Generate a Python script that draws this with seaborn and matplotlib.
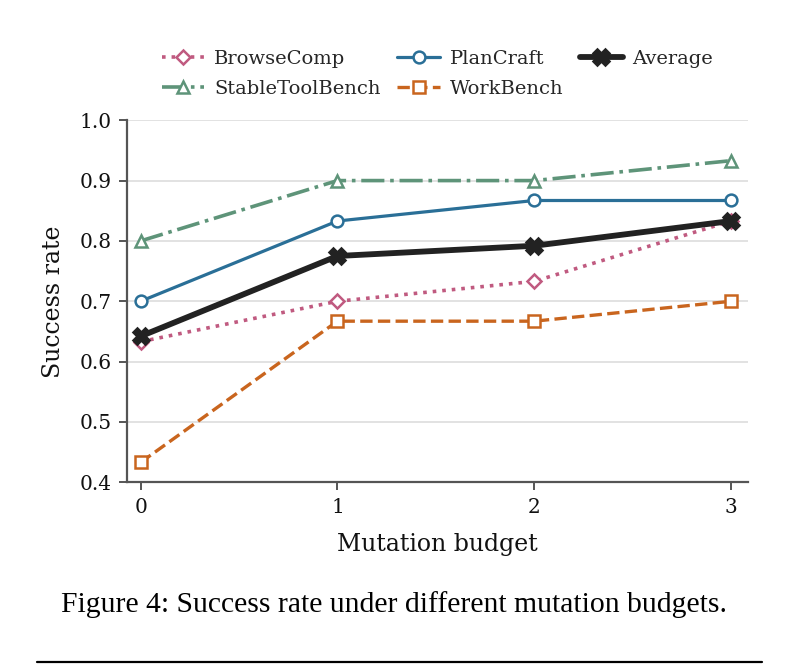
import matplotlib
matplotlib.use("Agg")
import matplotlib.pyplot as plt
from matplotlib.lines import Line2D
import seaborn as sns
import pandas as pd

budgets = [0, 1, 2, 3]
browsecomp = [0.633, 0.700, 0.733, 0.833]
stabletoolbench = [0.800, 0.900, 0.900, 0.933]
plancraft = [0.700, 0.833, 0.867, 0.867]
workbench = [0.433, 0.667, 0.667, 0.700]
average = [0.642, 0.775, 0.792, 0.833]

series_names = ["BrowseComp", "StableToolBench", "PlanCraft", "WorkBench", "Average"]
series_vals = [browsecomp, stabletoolbench, plancraft, workbench, average]

rows = []
for name, vals in zip(series_names, series_vals):
    for b, v in zip(budgets, vals):
        rows.append({"budget": b, "rate": v, "series": name})
df = pd.DataFrame(rows)

sns.set_theme(style="ticks")
plt.rcParams["font.family"] = ["DejaVu Serif"]

styles = {
    "BrowseComp": dict(color="#c05a80", ls=":", marker="D", lw=2.6, ms=7.5, mfc="white"),
    "StableToolBench": dict(color="#5e9479", ls="-.", marker="^", lw=2.6, ms=8.5, mfc="white"),
    "PlanCraft": dict(color="#2a6f97", ls="-", marker="o", lw=2.3, ms=8.5, mfc="white"),
    "WorkBench": dict(color="#c9651e", ls="--", marker="s", lw=2.4, ms=8, mfc="white"),
    "Average": dict(color="#222222", ls="-", marker="X", lw=4.2, ms=11, mfc="#222222"),
}

fig = plt.figure(figsize=(7.88, 6.68), dpi=100)
ax = fig.add_axes([0.161, 0.278, 0.788, 0.542])

for name in series_names:
    s = styles[name]
    sub = df[df["series"] == name]
    sns.lineplot(data=sub, x="budget", y="rate", ax=ax, label=name,
                 color=s["color"], linestyle=s["ls"], marker=s["marker"],
                 linewidth=s["lw"], markersize=s["ms"], markerfacecolor=s["mfc"],
                 markeredgecolor=s["color"], markeredgewidth=1.8, zorder=3 if name != "Average" else 4)

ax.set_xlim(-0.07, 3.085)
ax.set_ylim(0.4, 1.0)
ax.set_xticks(budgets)
ax.set_yticks([0.4, 0.5, 0.6, 0.7, 0.8, 0.9, 1.0])
ax.yaxis.grid(True, color="#dddddd", lw=1.2)
ax.set_axisbelow(True)
sns.despine(ax=ax)
for sp in ["left", "bottom"]:
    ax.spines[sp].set_color("#555555")
    ax.spines[sp].set_linewidth(1.6)
ax.tick_params(axis="both", colors="#555555", labelcolor="#111111", labelsize=14.5,
               length=6, width=1.4, pad=5)
ax.set_xlabel("Mutation budget", fontsize=17, color="#111111", labelpad=11.5)
ax.set_ylabel("Success rate", fontsize=17, color="#111111", labelpad=10.5)

ax.legend(loc="lower center", bbox_to_anchor=(0.5, 1.013), ncol=3, frameon=False,
          fontsize=14.0, handlelength=2.2, columnspacing=0.85, handletextpad=0.5,
          labelspacing=0.62)

fig.text(0.5, 1 - 605 / 668, "Figure 4: Success rate under different mutation budgets.",
         ha="center", va="center", family=["Liberation Serif"], fontsize=21.3, color="black")
fig.add_artist(Line2D([37 / 788, 762 / 788], [1 - 662 / 668] * 2, color="black", lw=1.6))

fig.savefig("out.png", dpi=100)
